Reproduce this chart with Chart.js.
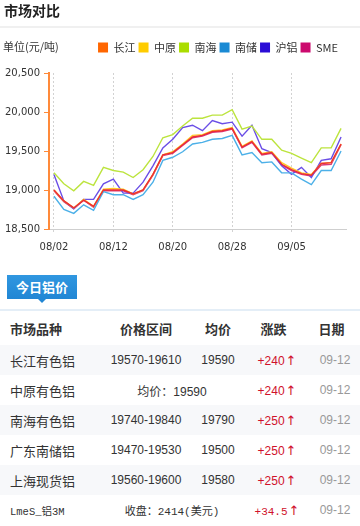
<!DOCTYPE html>
<html lang="zh-CN">
<head>
<meta charset="utf-8">
<title>市场对比</title>
<script src="https://cdn.jsdelivr.net/npm/chart.js@4.4.1/dist/chart.umd.min.js"></script>
<style>
    html, body { margin: 0; padding: 0; background: #fff; }
    body { position: relative; width: 360px; height: 526px; overflow: hidden; font-family: "Noto Sans CJK SC", sans-serif; color: #333; }
    .chart { position: absolute; left: 0; top: 0; width: 360px; height: 260px; }
    .title { position: absolute; left: 4px; top: 0; font-size: 14px; line-height: 21px; font-weight: bold; color: #222; }
    .sep { position: absolute; left: 0; top: 26px; width: 360px; height: 2px; background: #f0f0f0; }
    .unit { position: absolute; left: 3px; top: 39px; font-size: 11px; line-height: 14px; color: #333; }
    .tab { position: absolute; left: 7px; top: 275px; width: 70px; height: 24px; line-height: 24px; background: linear-gradient(#3097e0, #2186d4); color: #fff; font-size: 13px; font-weight: bold; text-align: center; }
    .tab:after { content: ''; position: absolute; left: 31px; bottom: -4px; border-left: 4px solid transparent; border-right: 4px solid transparent; border-top: 4px solid #2186d4; }
    .rule { position: absolute; left: 0; top: 309px; width: 360px; height: 2px; background: #e4eef7; }
    table { position: absolute; left: 0; top: 311px; width: 360px; border-collapse: collapse; table-layout: fixed; }
    th { height: 34px; padding: 0; font-size: 13px; font-weight: bold; color: #333; text-align: center; }
    th.name { text-align: left; padding-left: 10px; }
    th.pr { padding-right: 7px; }
    td { height: 30px; padding: 0; font-size: 12px; text-align: center; font-family: "Liberation Sans", "Noto Sans CJK SC", sans-serif; color: #333; }
    tr.odd td { background: #f7f8fa; }
    td.name { text-align: left; padding-left: 10px; font-size: 13px; font-family: "Noto Sans CJK SC", sans-serif; }
    td.up { color: #d0112b; }
    td.up span { font-family: "DejaVu Sans", sans-serif; font-size: 13px; margin-left: 1px; }
    td.date { color: #999; }
    td.mono { font-family: "Liberation Mono", "Noto Sans CJK SC", monospace; font-size: 11px; }
    td.name.mono { font-size: 10.5px; }
</style>
</head>
<body>
<div class="chart"><canvas id="chartMarket"></canvas></div>
<div class="title">市场对比</div>
<div class="sep"></div>
<div class="unit">单位(元/吨)</div>

<div class="tab">今日铝价</div>
<div class="rule"></div>
<table>
    <colgroup><col style="width:100px"><col style="width:92px"><col style="width:52px"><col style="width:66px"><col style="width:50px"></colgroup>
    <tr><th class="name">市场品种</th><th>价格区间</th><th>均价</th><th class="pr">涨跌</th><th class="pr">日期</th></tr>
    <tr class="odd"><td class="name">长江有色铝</td><td>19570-19610</td><td>19590</td><td class="up">+240<span>↑</span></td><td class="date">09-12</td></tr>
    <tr><td class="name">中原有色铝</td><td colspan="2">均价：19590</td><td class="up">+240<span>↑</span></td><td class="date">09-12</td></tr>
    <tr class="odd"><td class="name">南海有色铝</td><td>19740-19840</td><td>19790</td><td class="up">+250<span>↑</span></td><td class="date">09-12</td></tr>
    <tr><td class="name">广东南储铝</td><td>19470-19530</td><td>19500</td><td class="up">+250<span>↑</span></td><td class="date">09-12</td></tr>
    <tr class="odd"><td class="name">上海现货铝</td><td>19560-19600</td><td>19580</td><td class="up">+250<span>↑</span></td><td class="date">09-12</td></tr>
    <tr><td class="name mono">LmeS_铝3M</td><td colspan="2" class="mono">收盘：2414(美元)</td><td class="up mono">+34.5<span>↑</span></td><td class="date">09-12</td></tr>
</table>

<script>
/**
 * Dates
 */
const dates = ['08/02', '08/05', '08/06', '08/07', '08/08', '08/09', '08/12', '08/13', '08/14', '08/15',
    '08/16', '08/19', '08/20', '08/21', '08/22', '08/23', '08/26', '08/27', '08/28', '08/29',
    '08/30', '09/02', '09/03', '09/04', '09/05', '09/06', '09/09', '09/10', '09/11', '09/12'];

/**
 * Prices
 */
const changjiang = [19000, 18860, 18770, 18870, 18790, 19000, 19000, 19000, 18950, 19000,
    19200, 19450, 19480, 19580, 19680, 19700, 19750, 19760, 19790, 19550,
    19620, 19460, 19480, 19330, 19260, 19210, 19190, 19340, 19350, 19590];
const zhongyuan = [19000, 18860, 18770, 18880, 18790, 19010, 19020, 19010, 18950, 19000,
    19200, 19450, 19490, 19590, 19700, 19710, 19760, 19770, 19800, 19560,
    19630, 19470, 19490, 19350, 19280, 19220, 19200, 19340, 19350, 19590];
const nanhai = [19220, 19080, 18990, 19110, 19060, 19290, 19250, 19230, 19160, 19260,
    19430, 19670, 19710, 19820, 19920, 19920, 19960, 19960, 20030, 19780,
    19820, 19650, 19650, 19510, 19470, 19410, 19350, 19540, 19540, 19790];
const nanchu = [18920, 18750, 18700, 18810, 18740, 18980, 18940, 18940, 18880, 18940,
    19100, 19380, 19420, 19490, 19590, 19610, 19650, 19660, 19700, 19450,
    19480, 19350, 19360, 19220, 19220, 19140, 19070, 19250, 19250, 19500];
const hulv = [19200, 18860, 18760, 18880, 18880, 19080, 19140, 18960, 18960, 19100,
    19310, 19540, 19650, 19800, 19830, 19760, 19890, 19850, 19870, 19690,
    19830, 19530, 19480, 19310, 19200, 19290, 19160, 19380, 19400, 19680];
const sme = [18990, 18850, 18760, 18870, 18780, 18990, 18990, 18990, 18940, 18990,
    19190, 19440, 19470, 19570, 19670, 19690, 19740, 19750, 19780, 19540,
    19610, 19450, 19470, 19320, 19250, 19200, 19180, 19320, 19330, 19580];

/**
 * Axis ticks
 */
const priceTicks = [18500, 19000, 19500, 20000, 20500];

/**
 * Series (legend colour, line colour)
 */
const series = [
    { label: '长江', color: '#ff6600', line: '#ec2c34', data: changjiang },
    { label: '中原', color: '#ffcc00', line: '#ffc926', data: zhongyuan },
    { label: '南海', color: '#aadd00', line: '#bce43e', data: nanhai },
    { label: '南储', color: '#1a8ad4', line: '#4cb0e8', data: nanchu },
    { label: '沪铝', color: '#2a0dd6', line: '#6a4ee6', data: hulv },
    { label: 'SME', color: '#cc0a6e', line: '#d83a7e', data: sme }
];

/**
 * Legend spacing
 */
const legendGap = {
    id: 'legendGap',
    beforeInit(chart) {
        const fit = chart.legend.fit;
        chart.legend.fit = function () {
            fit.call(this);
            this.height += 10;
        };
    },
    afterUpdate(chart) {
        chart.legend.right -= 5;
    }
};

const font = 'DejaVu Sans';

new Chart(document.getElementById('chartMarket'), {
    type: 'line',
    data: {
        labels: dates,
        datasets: series.map(s => ({
            label: s.label,
            data: s.data,
            backgroundColor: s.color,
            borderColor: s.line,
            borderWidth: 1.4,
            pointRadius: 0,
            tension: 0,
            fill: false
        }))
    },
    options: {
        responsive: true,
        maintainAspectRatio: false,
        animation: false,
        locale: 'en-US',
        layout: { padding: { top: 39, right: 14, bottom: 0, left: 0 } },
        plugins: {
            tooltip: { enabled: false },
            legend: {
                position: 'top',
                align: 'end',
                labels: {
                    boxWidth: 10,
                    boxHeight: 10,
                    padding: 3,
                    color: '#333',
                    font: { size: 11, family: 'Noto Sans CJK SC' },
                    generateLabels: chart => Chart.defaults.plugins.legend.labels.generateLabels(chart)
                        .map(item => Object.assign(item, { strokeStyle: item.fillStyle, lineWidth: 0 }))
                }
            }
        },
        scales: {
            x: {
                offset: true,
                grid: {
                    color: ctx => ctx.index % 6 === 0 ? '#d2d2d2' : 'rgba(0,0,0,0)',
                    lineWidth: 1,
                    tickLength: 4,
                    tickBorderDash: [2, 2]
                },
                border: { color: '#cfcfcf', width: 1, dash: [2, 2] },
                ticks: {
                    autoSkip: false,
                    maxRotation: 0,
                    padding: 8,
                    color: '#333',
                    font: { size: 10, family: font },
                    callback: (value, index) => index % 6 === 0 ? dates[index] : ''
                },
                afterFit: scale => { scale.height = 31; }
            },
            y: {
                min: priceTicks[0],
                max: priceTicks[priceTicks.length - 1],
                afterBuildTicks: scale => { scale.ticks = priceTicks.map(v => ({ value: v })); },
                grid: { drawOnChartArea: false, tickLength: 5, tickColor: '#ff8a3a' },
                border: { color: '#ff8a3a', width: 2 },
                ticks: { padding: 4, color: '#333', font: { size: 10, family: font } },
                afterFit: scale => { scale.width = 49; }
            }
        }
    },
    plugins: [legendGap]
});
</script>
</body>
</html>
